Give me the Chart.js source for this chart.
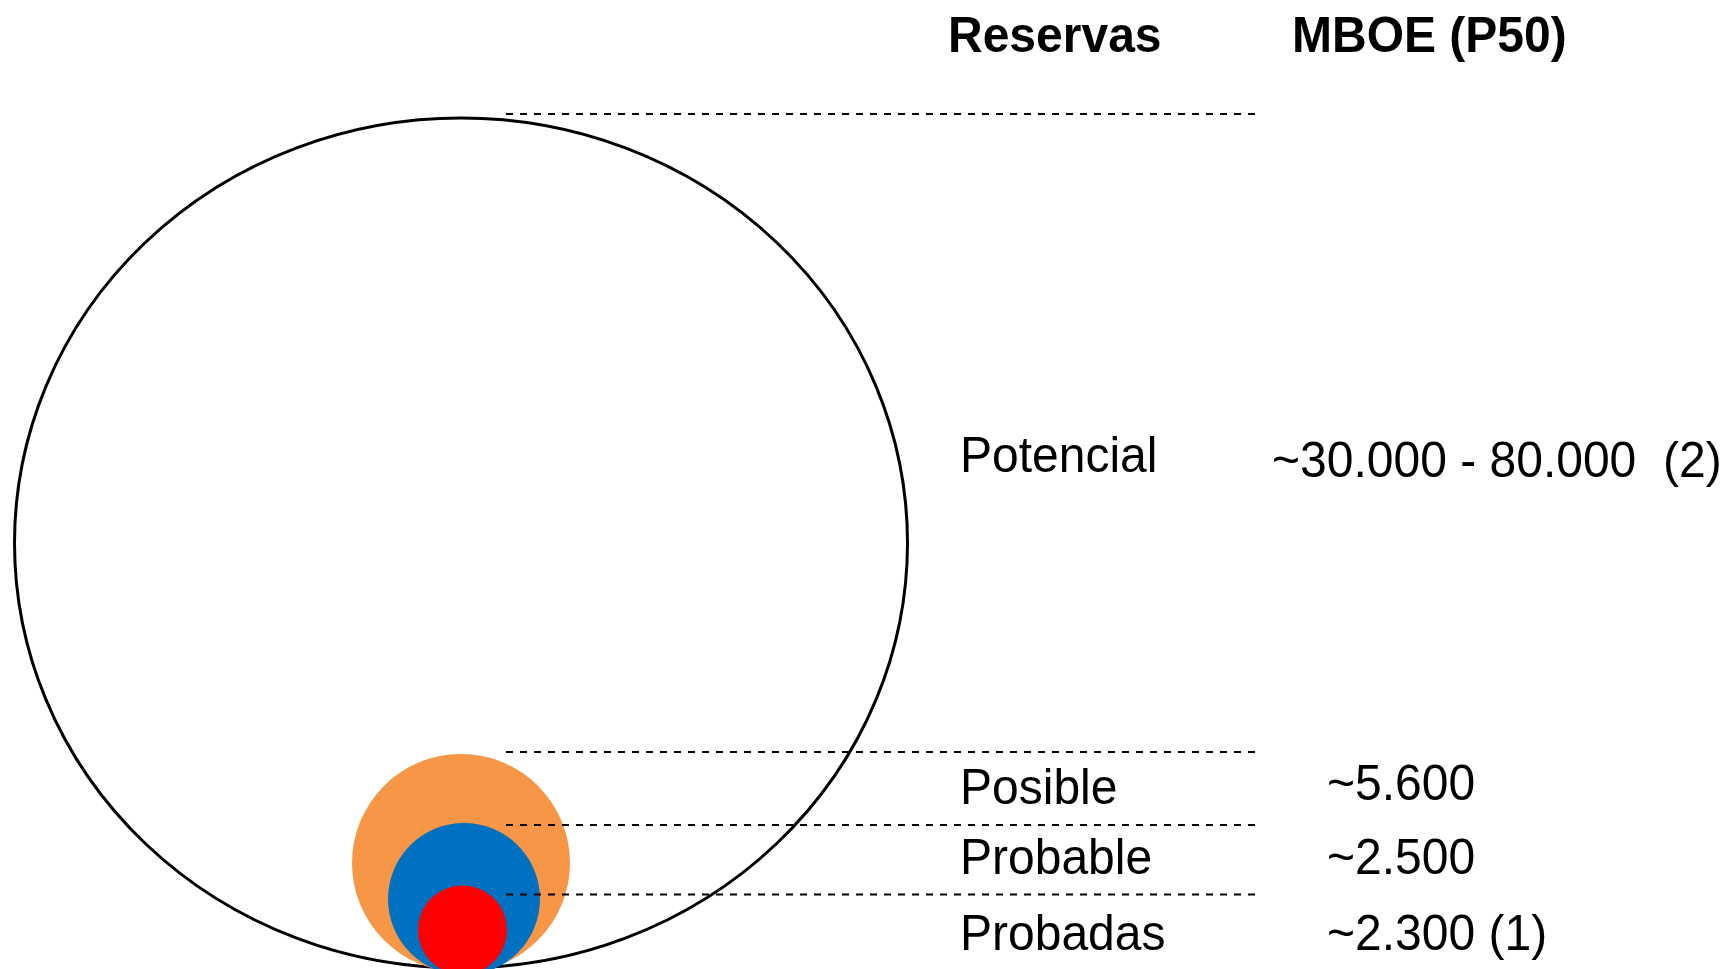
<!DOCTYPE html>
<html>
<head>
<meta charset="utf-8">
<title>Reservas MBOE</title>
<script src="https://cdn.jsdelivr.net/npm/chart.js@4.4.1/dist/chart.umd.min.js"></script>
<style>
  html, body { margin: 0; padding: 0; background: #ffffff; }
  #wrap { width: 1725px; height: 969px; position: relative; }
</style>
</head>
<body>
<div id="wrap"><canvas id="myChart"></canvas></div>
<script>
// Reserve categories and their MBOE (P50) figures
const categories = ['Potencial', 'Posible', 'Probable', 'Probadas'];
const mboeLabels = ['~30.000 - 80.000  (2)', '~5.600', '~2.500', '~2.300 (1)'];
const headers = ['Reservas', 'MBOE (P50)'];

// Circles in diagram units (x: 0-172.5, y: 0-96.9)
const circleX = [46.1, 46.1, 46.4, 46.25];
const circleY = [42.6, 10.6, 7.0, 3.9];
const radiusX = [44.65, 10.9, 7.6, 4.45];
const radiusY = [42.5, 10.9, 7.6, 4.45];

// Dashed divider levels (top of each circle) and their extent
const dividerLevels = [85.5, 21.7, 14.4, 7.45];
const dividerStart = 50.6;
const dividerEnd = 125.6;

const fillColors = [null, '#F79646', '#0070C0', '#FF0000'];

// Where the text goes, also in diagram units
const headerY = 91.7;
const headerX = [94.8, 129.2];
const labelX = 96.0;
const labelY = [49.7, 16.5, 9.5, 1.9];
const valueX = [127.2, 132.7, 132.7, 132.7];
const valueY = [49.2, 16.9, 9.5, 1.9];

const FONT = '"Liberation Sans", Arial, sans-serif';

// Draw the circles from the scatter points (dataset 0)
const circlePlugin = {
  id: 'reserveCircles',
  beforeDatasetsDraw(chart) {
    const { ctx, scales: { x, y } } = chart;
    const meta = chart.getDatasetMeta(0);
    meta.data.forEach((pt, i) => {
      const rx = x.getPixelForValue(circleX[i] + radiusX[i]) - pt.x;
      const ry = pt.y - y.getPixelForValue(circleY[i] + radiusY[i]);
      ctx.save();
      ctx.beginPath();
      ctx.ellipse(pt.x, pt.y, rx, ry, 0, 0, Math.PI * 2);
      if (fillColors[i]) {
        ctx.fillStyle = fillColors[i];
        ctx.fill();
      } else {
        ctx.strokeStyle = '#000000';
        ctx.lineWidth = 3;
        ctx.stroke();
      }
      ctx.restore();
    });
  },
};

// Text is slightly taller than wide in the original
function drawText(ctx, text, px, py, font) {
  ctx.save();
  ctx.translate(px, py);
  ctx.scale(1, 1.05);
  ctx.font = font;
  ctx.fillStyle = '#000000';
  ctx.textAlign = 'left';
  ctx.textBaseline = 'alphabetic';
  ctx.fillText(text, 0, 0);
  ctx.restore();
}

const textPlugin = {
  id: 'reserveText',
  afterDatasetsDraw(chart) {
    const { ctx, scales: { x, y } } = chart;
    headers.forEach((h, i) => {
      drawText(ctx, h, x.getPixelForValue(headerX[i]), y.getPixelForValue(headerY), 'bold 48px ' + FONT);
    });
    categories.forEach((c, i) => {
      drawText(ctx, c, x.getPixelForValue(labelX), y.getPixelForValue(labelY[i]), '48px ' + FONT);
      drawText(ctx, mboeLabels[i], x.getPixelForValue(valueX[i]), y.getPixelForValue(valueY[i]), '48px ' + FONT);
    });
  },
};

// One line dataset per dashed divider
const dividerSets = dividerLevels.map((lvl) => ({
  type: 'line',
  data: [{ x: dividerStart, y: lvl }, { x: dividerEnd, y: lvl }],
  borderColor: '#000000',
  borderWidth: 2,
  borderDash: [7, 7],
  pointRadius: 0,
  fill: false,
}));

const ctx = document.getElementById('myChart').getContext('2d');
new Chart(ctx, {
  type: 'scatter',
  data: {
    datasets: [
      {
        label: 'Reservas',
        data: categories.map((c, i) => ({ x: circleX[i], y: circleY[i] })),
        pointRadius: 0,
        pointHoverRadius: 0,
      },
      ...dividerSets,
    ],
  },
  options: {
    responsive: true,
    maintainAspectRatio: false,
    animation: false,
    layout: { padding: 0 },
    plugins: {
      legend: { display: false },
      tooltip: { enabled: false },
    },
    scales: {
      x: { type: 'linear', min: 0, max: 172.5, display: false },
      y: { type: 'linear', min: 0, max: 96.9, display: false },
    },
  },
  plugins: [circlePlugin, textPlugin],
});
</script>
</body>
</html>
